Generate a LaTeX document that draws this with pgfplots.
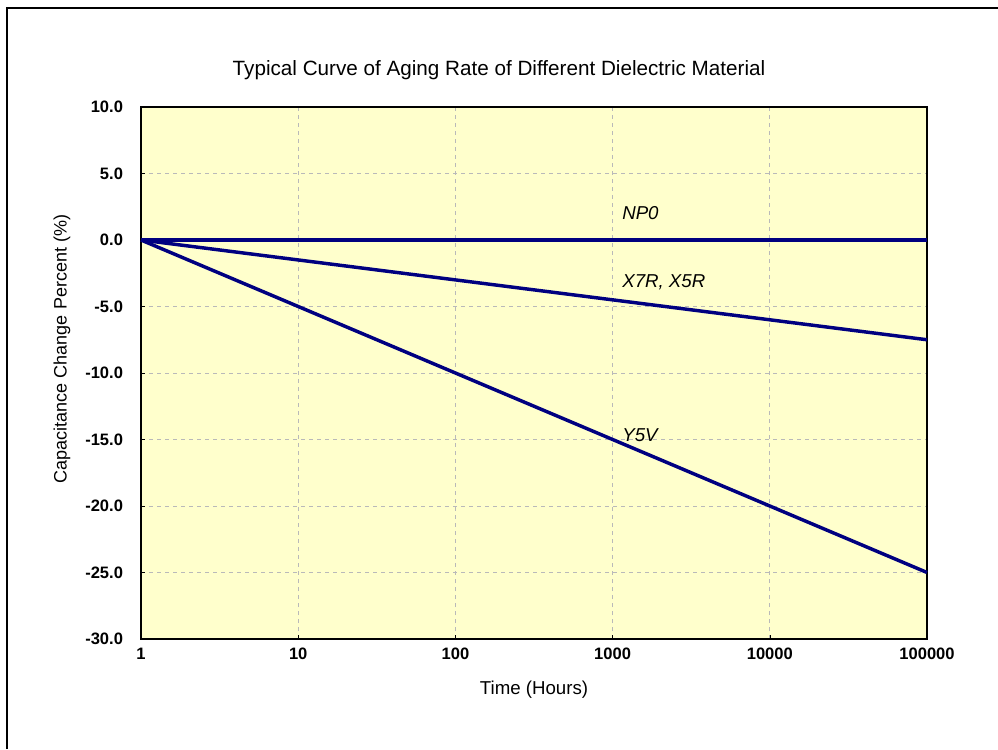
\documentclass[border=0pt]{standalone}
\usepackage{pgfplots}
\pgfplotsset{compat=1.18}
\usepackage{fontspec}
\setmainfont{Liberation Sans}
\definecolor{bgyellow}{RGB}{255,255,204}
\definecolor{navy}{RGB}{0,0,128}
\begin{document}
\begin{tikzpicture}
\path[use as bounding box] (0,0) rectangle (748.5pt,561.75pt);
\draw[line width=1.6pt] (5.25pt,0) -- (5.25pt,555.75pt) -- (748.5pt,555.75pt);
\node[font=\fontsize{15.5}{18}\selectfont] at (374.25pt,509.25pt) {Typical Curve of Aging Rate of Different Dielectric Material};
\node[font=\fontsize{13.5}{16}\selectfont, rotate=90] at (46.5pt,300pt) {Capacitance Change Percent (\%)};
\begin{axis}[
  at={(105.75pt,82.5pt)}, anchor=south west,
  scale only axis, width=589.5pt, height=399pt,
  xmode=log, xmin=1, xmax=100000,
  ymin=-30, ymax=10,
  xtick={1,10,100,1000,10000,100000},
  xticklabels={1,10,100,1000,10000,100000},
  ytick={-30,-25,-20,-15,-10,-5,0,5,10},
  xminorticks=false,
  /pgf/number format/assume math mode=true,
  yticklabel={\pgfmathprintnumber[fixed,fixed zerofill,precision=1]{\tick}},
  ticklabel style={font=\fontsize{12.4}{14}\selectfont\bfseries},
  xticklabel style={yshift=-3pt},
  yticklabel style={xshift=-10pt},
  tick style={black, thin}, tick align=inside, major tick length=3pt,
  tick pos=left,
  grid=major,
  grid style={dashed, gray!55, line width=0.6pt},
  axis background/.style={fill=bgyellow},
  axis line style={black, line width=0.9pt},
  clip=false,
]
\addplot[navy, line width=2.6pt] coordinates {(1,0) (100000,0)};
\addplot[navy, line width=2.6pt] coordinates {(1,0) (10,-1.5) (100,-3) (1000,-4.5) (10000,-6) (100000,-7.5)};
\addplot[navy, line width=2.6pt] coordinates {(1,0) (10,-5) (100,-10) (1000,-15) (10000,-20) (100000,-25)};
\node[anchor=west, inner sep=0pt, font=\fontsize{14}{16}\selectfont\itshape] at (axis cs:1148,2.0) {NP0};
\node[anchor=west, inner sep=0pt, font=\fontsize{14}{16}\selectfont\itshape] at (axis cs:1148,-3.2) {X7R, X5R};
\node[anchor=west, inner sep=0pt, font=\fontsize{14}{16}\selectfont\itshape] at (axis cs:1148,-14.7) {Y5V};
\node[font=\fontsize{14}{16}\selectfont] at (rel axis cs:0.5,0) [yshift=-38pt] {Time (Hours)};
\end{axis}
\end{tikzpicture}
\end{document}
